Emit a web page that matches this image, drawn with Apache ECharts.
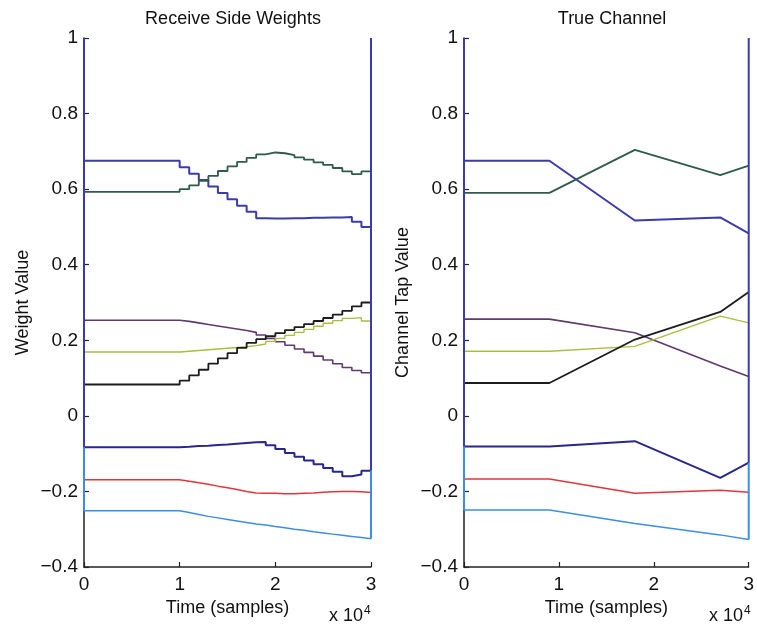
<!DOCTYPE html>
<html><head><meta charset="utf-8">
<script src="https://cdn.jsdelivr.net/npm/echarts@6/dist/echarts.min.js"></script>
<style>html,body{margin:0;padding:0;background:#fff}#c{width:757px;height:628px}</style>
</head><body><div id="c"></div>
<script>
// ---- data ----
const timesLeft = [0,1.0,1.1,1.2,1.3,1.4,1.5,1.6,1.7,1.8,1.9,2.0,2.1,2.2,2.3,2.4,2.5,2.6,2.7,2.8,2.9,3.0];
const wBlue   = [0.675,0.658,0.641,0.624,0.607,0.590,0.573,0.556,0.540,0.523,0.522,0.522,0.523,0.523,0.524,0.524,0.525,0.525,0.526,0.514,0.500,0.500];
const wGreen  = [0.593,0.600,0.610,0.622,0.635,0.648,0.660,0.672,0.683,0.692,0.697,0.695,0.690,0.684,0.678,0.671,0.664,0.656,0.647,0.640,0.647,0.649];
const wPurple = [0.253,0.250,0.246,0.242,0.238,0.234,0.230,0.226,0.221,0.214,0.205,0.196,0.187,0.177,0.168,0.158,0.148,0.138,0.128,0.120,0.114,0.114];
const wYellow = [0.169,0.171,0.173,0.175,0.177,0.179,0.181,0.183,0.186,0.190,0.197,0.205,0.213,0.221,0.229,0.237,0.245,0.252,0.258,0.260,0.251,0.251];
const wBlack  = [0.083,0.093,0.107,0.122,0.138,0.152,0.166,0.180,0.193,0.203,0.211,0.219,0.227,0.235,0.243,0.251,0.259,0.268,0.278,0.290,0.300,0.300];
const wNavy   = [-0.083,-0.082,-0.080,-0.079,-0.077,-0.076,-0.074,-0.072,-0.070,-0.069,-0.078,-0.088,-0.098,-0.108,-0.118,-0.128,-0.138,-0.148,-0.160,-0.155,-0.145,-0.145];
const wRed    = [-0.169,-0.173,-0.177,-0.181,-0.186,-0.190,-0.195,-0.200,-0.204,-0.205,-0.205,-0.206,-0.206,-0.205,-0.204,-0.202,-0.201,-0.200,-0.200,-0.201,-0.203,-0.203];
const wLight  = [-0.251,-0.256,-0.261,-0.266,-0.270,-0.274,-0.278,-0.282,-0.286,-0.289,-0.293,-0.296,-0.300,-0.303,-0.307,-0.310,-0.313,-0.316,-0.319,-0.322,-0.325,-0.325];
// left plot edge segments (x, y0, y1)
const edgeLeftNavy  = [[0,1.0,-0.083],[3,1.0,-0.145]];
const edgeLeftLight = [[0,-0.083,-0.251],[3,-0.145,-0.325]];

const timesRight = [0,0.9,1.8,2.7,3.0];
const cBlue   = [0.675,0.675,0.517,0.525,0.483];
const cGreen  = [0.590,0.590,0.704,0.637,0.662];
const cPurple = [0.256,0.256,0.220,0.132,0.104];
const cYellow = [0.171,0.171,0.184,0.264,0.246];
const cBlack  = [0.087,0.087,0.202,0.275,0.328];
const cNavy   = [-0.081,-0.081,-0.067,-0.164,-0.124];
const cRed    = [-0.167,-0.167,-0.205,-0.197,-0.202];
const cLight  = [-0.249,-0.249,-0.285,-0.315,-0.327];
const edgeRightNavy  = [[0,1.0,-0.081],[3,1.0,-0.124]];
const edgeRightLight = [[0,-0.081,-0.249],[3,-0.124,-0.327]];

const xTicks = [0,1,2,3];
const yTicks = [-0.4,-0.2,0,0.2,0.4,0.6,0.8,1];
const titles = ['Receive Side Weights','True Channel'];
const yNames = ['Weight Value','Channel Tap Value'];
const xName = 'Time (samples)';

// ---- styles ----
const COLORS = {blue:'#3b3bab', green:'#2f5b4c', purple:'#5f3a6c', yellow:'#a9bd3e', black:'#1c1c1c', navy:'#27278e', red:'#e1353d', light:'#3c8fe0'};
const FONT = 'Liberation Sans, Arial, Helvetica, sans-serif';

const chart = echarts.init(document.getElementById('c'), null, {renderer:'canvas'});
const zip = (xs, ys) => xs.map((x,i)=>[x, ys[i]]);

const grids = [
  {left:84, top:38, width:287, height:529},
  {left:464, top:38, width:287, height:529}
];
function xAxis(i){
  return {type:'value', gridIndex:i, min:0, max:3, interval:1,
    axisLine:{show:true, onZero:false, lineStyle:{color:'#222', width:1.5}},
    axisTick:{show:true, inside:true, length:5, lineStyle:{color:'#222', width:1.2}},
    axisLabel:{color:'#111', fontSize:19, fontFamily:FONT, margin:8,
      formatter:v=> xTicks.includes(v) ? String(v) : ''},
    splitLine:{show:false},
    name:xName, nameLocation:'middle', nameGap:30,
    nameTextStyle:{color:'#111', fontSize:18, fontFamily:FONT}};
}
function yAxis(i){
  return {type:'value', gridIndex:i, min:-0.4, max:1, interval:0.2,
    axisLine:{show:true, onZero:false, lineStyle:{color:'#222', width:1.5}},
    axisTick:{show:true, inside:true, length:5, lineStyle:{color:'#222', width:1.2}},
    axisLabel:{color:'#111', fontSize:19, fontFamily:FONT, margin:6,
      formatter:v=>{ const r=Math.round(v*10)/10; return r<0 ? '\u2212'+String(-r) : String(r); }},
    splitLine:{show:false},
    name:yNames[i], nameLocation:'middle', nameGap:52, nameRotate:90,
    nameTextStyle:{color:'#111', fontSize:18, fontFamily:FONT}};
}

const series = [];
function addLine(i, xs, ys, color, width, step){
  series.push({type:'line', xAxisIndex:i, yAxisIndex:i, data:zip(xs,ys), step:step||false,
    symbol:'none', silent:true, animation:false, clip:true,
    lineStyle:{color:color, width:width}});
}
function addEdges(i, segs, color){
  segs.forEach(s=>{
    series.push({type:'line', xAxisIndex:i, yAxisIndex:i, data:[[s[0],s[1]],[s[0],s[2]]],
      symbol:'none', silent:true, animation:false, clip:false,
      lineStyle:{color:color, width:2}});
  });
}
const leftSets = [[wBlue,'blue',2],[wGreen,'green',1.8],[wPurple,'purple',1.6],[wYellow,'yellow',1.4],[wBlack,'black',1.8],[wNavy,'navy',2],[wRed,'red',1.5],[wLight,'light',1.5]];
leftSets.forEach(s=>addLine(0, timesLeft, s[0], COLORS[s[1]], s[2], 'end'));
addEdges(0, edgeLeftNavy, COLORS.blue);
addEdges(0, edgeLeftLight, COLORS.light);
const rightSets = [[cBlue,'blue',2],[cGreen,'green',1.8],[cPurple,'purple',1.6],[cYellow,'yellow',1.4],[cBlack,'black',1.8],[cNavy,'navy',2],[cRed,'red',1.5],[cLight,'light',1.5]];
rightSets.forEach(s=>addLine(1, timesRight, s[0], COLORS[s[1]], s[2], false));
addEdges(1, edgeRightNavy, COLORS.blue);
addEdges(1, edgeRightLight, COLORS.light);

const exp = {type:'text', style:{text:'{a|x 10}{b|4}', rich:{a:{fontSize:18, fontFamily:FONT, fill:'#111'}, b:{fontSize:12, fontFamily:FONT, fill:'#111', verticalAlign:'top', padding:[0,0,10,1]}}}};

chart.setOption({
  backgroundColor:'#fff',
  animation:false,
  title:[
    {text:titles[0], left:228, top:5, textAlign:'center', textStyle:{fontSize:18, fontWeight:'normal', color:'#111', fontFamily:FONT}},
    {text:titles[1], left:607, top:5, textAlign:'center', textStyle:{fontSize:18, fontWeight:'normal', color:'#111', fontFamily:FONT}}
  ],
  grid:grids,
  xAxis:[xAxis(0), xAxis(1)],
  yAxis:[yAxis(0), yAxis(1)],
  series:series,
  graphic:[
    Object.assign({left:329, top:605}, JSON.parse(JSON.stringify(exp))),
    Object.assign({left:709, top:605}, JSON.parse(JSON.stringify(exp)))
  ]
});
</script></body></html>
